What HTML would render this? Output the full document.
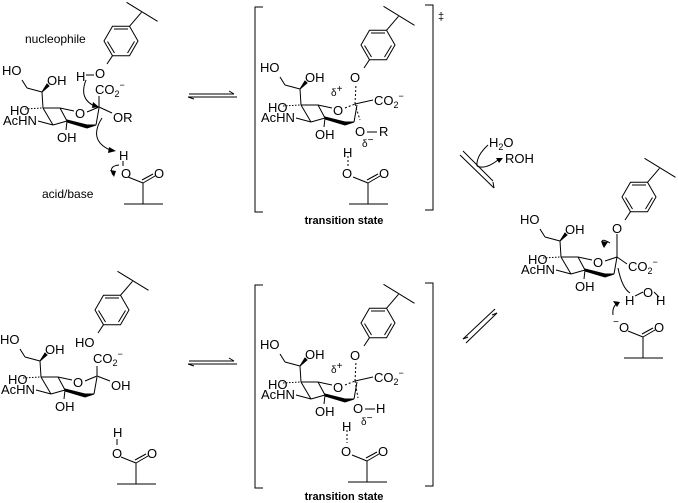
<!DOCTYPE html>
<html><head><meta charset="utf-8"><style>
html,body{margin:0;padding:0;background:#fff;}
svg{display:block;font-family:"Liberation Sans",sans-serif;}
text{font-size:13px;fill:#000;}
.s{font-size:9px;}
</style></head><body>
<svg width="678" height="503" viewBox="0 0 678 503" xmlns="http://www.w3.org/2000/svg">
<defs>
<g id="ph" stroke="#000" stroke-width="1" fill="none">
<polygon points="17,0 8.5,14.7 -8.5,14.7 -17,0 -8.5,-14.7 8.5,-14.7"/>
<line x1="13.5" y1="0.5" x2="6.5" y2="12"/>
<line x1="-6.5" y1="12" x2="-13.5" y2="0.5"/>
<line x1="-7" y1="-12" x2="7" y2="-12"/>
<line x1="8.5" y1="-14.7" x2="20.5" y2="-28.7"/>
<line x1="5.5" y1="-38.7" x2="36.5" y2="-19.7"/>
<line x1="-8.5" y1="14.7" x2="-14" y2="23"/>
</g>
<g id="sr" stroke="#000" stroke-width="1" fill="none">
<line x1="-20" y1="-5" x2="-6" y2="-2"/>
<line x1="-37" y1="-5" x2="-20" y2="-5"/>
<line x1="19" y1="-5" x2="16" y2="12"/>
<polygon points="16,12 7,15 -13,9 -13,7 7,12" fill="#000"/>
<line x1="-13" y1="8" x2="-27" y2="12"/>
<line x1="-20" y1="-5" x2="-13" y2="8"/>
<line x1="-37" y1="-5" x2="-27" y2="12"/>
<line x1="-42" y1="8" x2="-27" y2="12"/>
<line x1="-13" y1="8" x2="-14" y2="17"/>
<line x1="-55" y1="-4" x2="-38" y2="-5" stroke-dasharray="1.5,1.5"/>
<line x1="-37" y1="-5" x2="-38" y2="-21"/>
<polygon points="-38,-21 -31,-27 -33,-29" fill="#000"/>
<line x1="-38" y1="-21" x2="-53" y2="-25"/>
<line x1="-53" y1="-25" x2="-58" y2="-33"/>
</g>
<g id="acid" stroke="#000" stroke-width="1" fill="none">
<line x1="4" y1="4" x2="19" y2="10"/>
<line x1="19" y1="10" x2="31" y2="3"/>
<line x1="18" y1="7" x2="29" y2="1"/>
<line x1="19" y1="10" x2="19" y2="31"/>
<line x1="0" y1="31" x2="39" y2="31"/>
</g>
</defs>

<!-- ===== top-left ===== -->
<use href="#ph" x="121" y="41"/>
<use href="#sr" x="80" y="113"/>
<g transform="translate(80,113)">
<text x="0" y="5" text-anchor="middle">O</text>
<text x="-70" y="2">HO</text>
<text x="-77" y="12">AcHN</text>
<text x="-23" y="29">OH</text>
<text x="-33" y="-28">OH</text>
<text x="-78" y="-38">HO</text>
</g>
<g stroke="#000" fill="none">
<line x1="87" y1="112" x2="99" y2="107"/>
<line x1="99" y1="107" x2="99" y2="96"/>
<line x1="99" y1="107" x2="112" y2="113"/>
<line x1="86" y1="75" x2="94" y2="75"/>
<path d="M86,80 Q78,100 97,107"/>
<path d="M102,118 Q88,140 110,150"/>
<path d="M119,165 Q108,166 113,175"/>
</g>
<polygon points="99,107 93,102 92,108" fill="#000"/>
<polygon points="116,151 109,147 108,153" fill="#000"/>
<polygon points="114,177 110,170 116,171" fill="#000"/>
<text x="76" y="81">H</text>
<text x="95" y="78">O</text>
<text x="95" y="94">CO<tspan class="s" dy="3">2</tspan><tspan class="s" dy="-9">−</tspan></text>
<text x="113" y="122">OR</text>
<text x="25" y="43" style="font-size:12px">nucleophile</text>
<text x="42" y="198" style="font-size:12px">acid/base</text>
<text x="119" y="160">H</text>
<line x1="123" y1="161" x2="123" y2="166" stroke="#000"/>
<text x="121" y="178">O</text>
<use href="#acid" x="124" y="173"/>
<text x="154" y="178">O</text>

<!-- eq arrows -->
<g stroke="#000" fill="none">
<line x1="189" y1="94" x2="234" y2="94"/><line x1="229" y1="91" x2="234" y2="94"/>
<line x1="188" y1="97" x2="237" y2="97"/><line x1="188" y1="97" x2="194" y2="99"/>
<line x1="189" y1="361" x2="234" y2="361"/><line x1="229" y1="358" x2="234" y2="361"/>
<line x1="188" y1="364" x2="237" y2="364"/><line x1="188" y1="364" x2="194" y2="366"/>
</g>

<!-- ===== TS top ===== -->
<g stroke="#000" fill="none">
<path d="M263,7 H255 V212 H263"/>
<path d="M425,5 H433 V210 H425"/>
</g>
<text x="438" y="20" style="font-size:11px">‡</text>
<use href="#ph" x="378" y="45"/>
<use href="#sr" x="338" y="110"/>
<g transform="translate(338,110)">
<text x="0" y="5" text-anchor="middle">O</text>
<text x="-70" y="2">HO</text>
<text x="-77" y="12">AcHN</text>
<text x="-23" y="29">OH</text>
<text x="-33" y="-28">OH</text>
<text x="-78" y="-38">HO</text>
</g>
<g stroke="#000" fill="none">
<line x1="345" y1="108" x2="355" y2="104" stroke-dasharray="2,2"/>
<line x1="355" y1="104" x2="356" y2="84" stroke-dasharray="2,2"/>
<line x1="355" y1="104" x2="373" y2="100"/>
<line x1="355" y1="104" x2="360" y2="120" stroke-dasharray="2,2"/>
<line x1="367" y1="132" x2="377" y2="132"/>
<line x1="348" y1="156" x2="348" y2="166" stroke-dasharray="2,2"/>
</g>
<text x="350" y="82">O</text>
<text x="331" y="96" style="font-size:10px">δ<tspan dy="-4">+</tspan></text>
<text x="374" y="105">CO<tspan class="s" dy="3">2</tspan><tspan class="s" dy="-9">−</tspan></text>
<text x="355" y="136">O</text>
<text x="379" y="136">R</text>
<text x="362" y="147" style="font-size:10px">δ<tspan dy="-4">−</tspan></text>
<text x="343" y="157">H</text>
<text x="342" y="178">O</text>
<use href="#acid" x="349" y="173"/>
<text x="379" y="178">O</text>
<text x="344" y="224" text-anchor="middle" style="font-size:11px;font-weight:bold">transition state</text>

<!-- diagonal eqs -->
<g stroke="#000" fill="none">
<line x1="463" y1="151" x2="493" y2="181"/>
<line x1="460" y1="155" x2="494" y2="188"/>
<line x1="494" y1="188" x2="493" y2="182"/>
<path d="M488,145 Q476,156 477,166"/>
<path d="M477,166 Q485,170 498,160"/>
<line x1="463" y1="339" x2="495" y2="309"/>
<line x1="466" y1="343" x2="497" y2="313"/>
<line x1="463" y1="339" x2="468" y2="337"/>
<line x1="497" y1="313" x2="492" y2="315"/>
</g>
<polygon points="503,158 496,158 499,163" fill="#000"/>
<text x="489" y="147">H<tspan class="s" dy="3">2</tspan><tspan dy="-3">O</tspan></text>
<text x="505" y="163">ROH</text>

<!-- ===== right molecule ===== -->
<use href="#ph" x="639" y="197"/>
<use href="#sr" x="598" y="262"/>
<g transform="translate(598,262)">
<text x="0" y="5" text-anchor="middle">O</text>
<text x="-70" y="2">HO</text>
<text x="-77" y="12">AcHN</text>
<text x="-23" y="29">OH</text>
<text x="-33" y="-28">OH</text>
<text x="-78" y="-38">HO</text>
</g>
<g stroke="#000" fill="none">
<line x1="605" y1="261" x2="617" y2="257"/>
<line x1="617" y1="257" x2="617" y2="234"/>
<line x1="617" y1="257" x2="627" y2="264"/>
<path d="M610,243 Q598,236 604,247"/>
<path d="M618,268 Q622,288 630,293"/>
<path d="M613,315 Q612,306 618,303"/>
<line x1="635" y1="296" x2="643" y2="292"/>
<line x1="654" y1="292" x2="659" y2="297"/>
</g>
<polygon points="604,248 601,241 608,242" fill="#000"/>
<polygon points="620,302 613,301 617,307" fill="#000"/>
<text x="612" y="233">O</text>
<text x="628" y="271">CO<tspan class="s" dy="3">2</tspan><tspan class="s" dy="-9">−</tspan></text>
<text x="625" y="305">H</text>
<text x="643" y="297">O</text>
<text x="656" y="305">H</text>
<text x="613" y="325" style="font-size:10px">−</text>
<text x="619" y="332">O</text>
<use href="#acid" x="624" y="327"/>
<text x="654" y="332">O</text>

<!-- ===== bottom-left ===== -->
<use href="#ph" x="112" y="310"/>
<use href="#sr" x="78" y="382"/>
<g transform="translate(78,382)">
<text x="0" y="5" text-anchor="middle">O</text>
<text x="-70" y="2">HO</text>
<text x="-77" y="12">AcHN</text>
<text x="-23" y="29">OH</text>
<text x="-33" y="-28">OH</text>
<text x="-78" y="-38">HO</text>
</g>
<g stroke="#000" fill="none">
<line x1="85" y1="381" x2="97" y2="376"/>
<line x1="97" y1="376" x2="97" y2="366"/>
<line x1="97" y1="376" x2="110" y2="381"/>
</g>
<text x="75" y="347">HO</text>
<text x="93" y="363">CO<tspan class="s" dy="3">2</tspan><tspan class="s" dy="-9">−</tspan></text>
<text x="111" y="390">OH</text>
<text x="113" y="437">H</text>
<line x1="117" y1="439" x2="117" y2="445" stroke="#000"/>
<text x="112" y="458">O</text>
<use href="#acid" x="117" y="453"/>
<text x="147" y="458">O</text>

<!-- ===== TS bottom ===== -->
<g stroke="#000" fill="none">
<path d="M263,285 H255 V488 H263"/>
<path d="M425,283 H433 V486 H425"/>
</g>
<use href="#ph" x="378" y="323"/>
<use href="#sr" x="338" y="387"/>
<g transform="translate(338,387)">
<text x="0" y="5" text-anchor="middle">O</text>
<text x="-70" y="2">HO</text>
<text x="-77" y="12">AcHN</text>
<text x="-23" y="29">OH</text>
<text x="-33" y="-28">OH</text>
<text x="-78" y="-38">HO</text>
</g>
<g stroke="#000" fill="none">
<line x1="345" y1="385" x2="355" y2="381" stroke-dasharray="2,2"/>
<line x1="355" y1="381" x2="356" y2="362" stroke-dasharray="2,2"/>
<line x1="355" y1="381" x2="373" y2="377"/>
<line x1="355" y1="381" x2="358" y2="398" stroke-dasharray="2,2"/>
<line x1="365" y1="409" x2="375" y2="409"/>
<line x1="347" y1="430" x2="347" y2="443" stroke-dasharray="2,2"/>
</g>
<text x="350" y="360">O</text>
<text x="331" y="373" style="font-size:10px">δ<tspan dy="-4">+</tspan></text>
<text x="374" y="382">CO<tspan class="s" dy="3">2</tspan><tspan class="s" dy="-9">−</tspan></text>
<text x="353" y="413">O</text>
<text x="376" y="413">H</text>
<text x="361" y="425" style="font-size:10px">δ<tspan dy="-4">−</tspan></text>
<text x="342" y="431">H</text>
<text x="341" y="456">O</text>
<use href="#acid" x="348" y="451"/>
<text x="378" y="456">O</text>
<text x="344" y="500" text-anchor="middle" style="font-size:11px;font-weight:bold">transition state</text>
</svg>
</body></html>
